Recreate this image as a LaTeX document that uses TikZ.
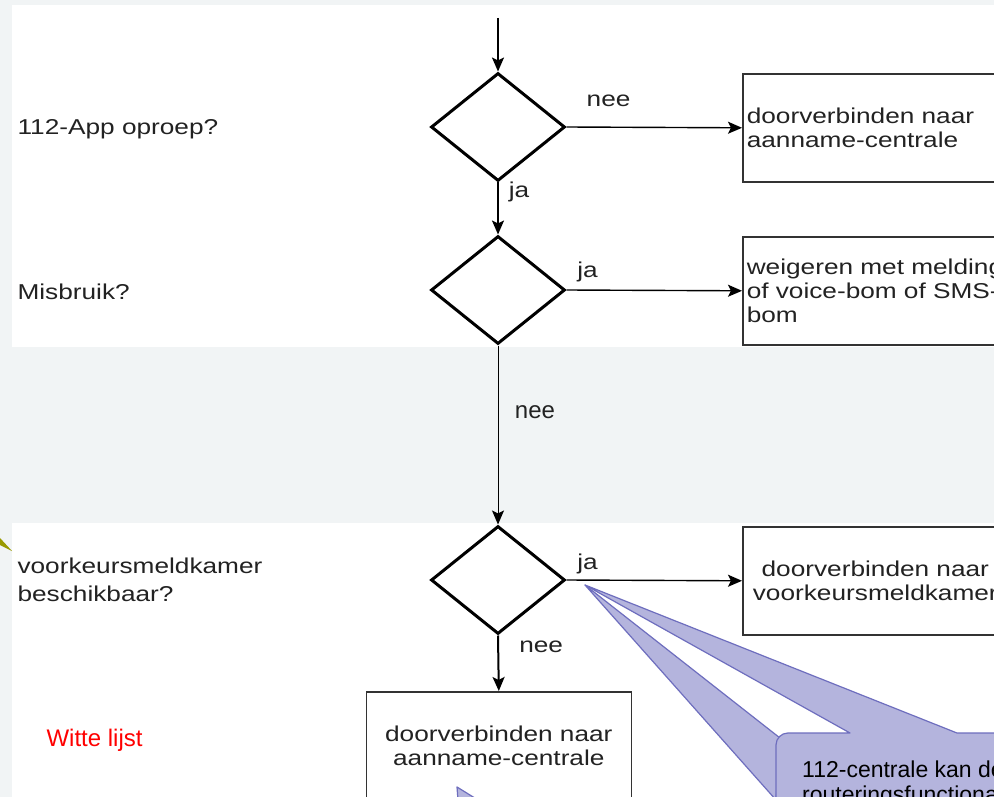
\documentclass[tikz,border=0pt]{standalone}
\usepackage{fontspec}
\setmainfont{Liberation Sans}[FakeStretch=1.22]
\newfontfamily\plainsans{Liberation Sans}
\usepackage{tikz}
\usetikzlibrary{arrows.meta,shapes.geometric}
\definecolor{PanelGrey}{RGB}{241,244,245}
\definecolor{CalloutFill}{RGB}{180,180,221}
\definecolor{CalloutLine}{RGB}{110,110,190}
\definecolor{TextGrey}{RGB}{34,34,34}
\definecolor{PointerOlive}{RGB}{153,153,0}
\tikzset{
    Decision/.style = {draw,diamond,line width=3pt,minimum width=134pt,
        minimum height=108pt,inner sep=0pt},
    Action/.style = {draw=black!80,line width=1.6pt,minimum width=265pt,
        minimum height=108pt,inner xsep=4pt,text width=257pt,anchor=north west},
    Arrow/.style = {line width=1.4pt,-{Stealth[length=14pt,width=12pt,inset=3pt]}},
    Callout/.style = {fill=CalloutFill,draw=CalloutLine,line width=1.2pt,line join=round}
}

\begin{document}
\begin{tikzpicture}[x=1pt,y=-1pt,font=\fontsize{21.5pt}{24pt}\selectfont,text=TextGrey]
        \useasboundingbox (0,0) rectangle (994,797);
        \clip (0,0) rectangle (994,797);
        % panels
        \fill[PanelGrey] (0,0) rectangle (994,797);
        \fill[white] (12,5) rectangle (994,347);
        \fill[white] (12,523) rectangle (994,797);
        \fill[PointerOlive] (0,538) -- (12,551) -- (0,545) -- cycle;
        % questions
        \node[anchor=west] (Q1) at (14,129) {112-App oproep?};
        \node[anchor=west] (Q2) at (14,292) {Misbruik?};
        \node[anchor=west,align=left] (Q3) at (14,580) {voorkeursmeldkamer\\[4pt]beschikbaar?};
        \node[anchor=west,text=red,font=\plainsans\fontsize{24pt}{28pt}\selectfont] (WL) at (43,740) {Witte lijst};
        % flow
        \coordinate (Start) at (498,18);
        \foreach \Y/\N in {127/D1,290/D2,580/D3}
            {\node[Decision] (\N) at (498,\Y) {};}
        \node[Action,align=left] (B1) at (742,73) {doorverbinden naar\\aanname-centrale};
        \node[Action,align=left] (B2) at (742,236) {weigeren met melding\\of voice-bom of SMS-\\bom};
        \node[Action,align=center] (B3) at (742,526) {doorverbinden naar\\voorkeursmeldkamer};
        \node[Action,align=center] (B4) at (365.5,691) {doorverbinden naar\\aanname-centrale};
        \draw[Arrow,line width=2pt] (Start) -- (D1.north);
        \draw[Arrow] (D1.east) -- node[pos=0.24,yshift=26pt] {nee} (B1.west);
        \draw[Arrow,line width=2pt] (D1.south) -- node[pos=0.19,xshift=21pt] {ja} (D2.north);
        \draw[Arrow] (D2.east) -- node[pos=0.12,yshift=18pt] {ja} (B2.west);
        \draw[Arrow,line width=1pt] (D2.south) -- node[pos=0.37,xshift=37pt,font=\plainsans\fontsize{24pt}{28pt}\selectfont] {nee} (D3.north);
        \draw[Arrow] (D3.east) -- node[pos=0.12,yshift=16pt] {ja} (B3.west);
        \draw[Arrow,line width=2pt] (D3.south) -- node[pos=0.21,xshift=43pt] {nee} (B4.north);
        % callouts
        \coordinate (Tip) at (585,585);
        \draw[Callout] (Tip) -- (780,738) -- (776,800) -- cycle;
        \draw[Callout] (Tip) -- (957,733) -- (1010,733) -- (1010,830) -- (776,830) -- (776,745)
            arc[start angle=180,end angle=270,radius=12] -- (850,733) -- cycle;
        \node[anchor=base west,align=left,text=black,font=\plainsans\fontsize{23pt}{25pt}\selectfont,inner sep=0pt] (C1) at (802,802)
            {112-centrale kan de\\routeringsfunctionaliteit};
        \draw[Callout] (457,787) -- (478,800) -- (458,800) -- cycle;
\end{tikzpicture}
\end{document}
